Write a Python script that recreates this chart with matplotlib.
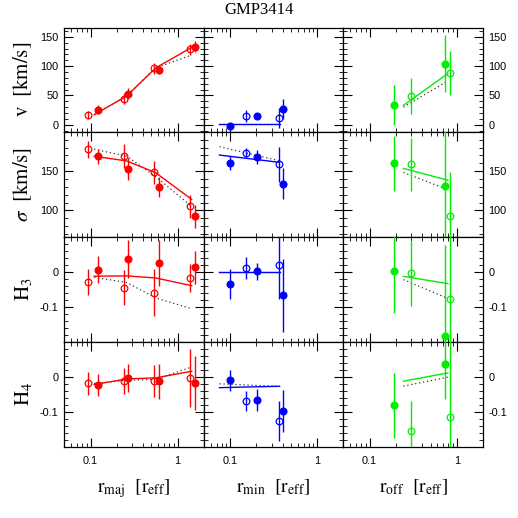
import numpy as np
import matplotlib
matplotlib.use('Agg')
import matplotlib.pyplot as plt
from matplotlib.ticker import LogLocator, MultipleLocator, FixedLocator, FuncFormatter, NullFormatter

# ---------------- data ----------------
# major axis (red)
r_maj_open = [0.094, 0.245, 0.54, 1.38]
r_maj_fill = [0.122, 0.272, 0.615, 1.58]
v_maj_open = [17, 44.5, 96, 129]
v_maj_open_err = [7, 9, 10, 9.5]
v_maj_fill = [25.7, 53, 94, 133]
v_maj_fill_err = [7.7, 9.7, 8, 9.7]
s_maj_open = [177.8, 169.2, 148.3, 105.1]
s_maj_open_err = [10.7, 15, 15, 14.7]
s_maj_fill = [169.2, 152.6, 129.9, 92.3]
s_maj_fill_err = [9.6, 13.9, 12.8, 14.3]
h3_maj_open = [-0.028, -0.045, -0.0595, -0.017]
h3_maj_open_err = [0.037, 0.05, 0.067, 0.039]
h3_maj_fill = [0.0065, 0.037, 0.0255, 0.014]
h3_maj_fill_err = [0.038, 0.054, 0.065, 0.047]
h4_maj_open = [-0.019, -0.0125, -0.013, -0.003]
h4_maj_open_err = [0.032, 0.037, 0.046, 0.083]
h4_maj_fill = [-0.024, -0.003, -0.013, -0.017]
h4_maj_fill_err = [0.032, 0.04, 0.05, 0.078]
r_maj_model = [0.11, 0.26, 0.56, 1.45]
v_maj_solid = [17, 49, 97, 132]
v_maj_dot = [17, 49, 97, 119]
s_maj_solid = [169, 163, 148, 114]
s_maj_dot = [178, 169, 143, 105]
h3_maj_solid = [-0.012, -0.011, -0.017, -0.039]
h3_maj_dot = [-0.015, -0.030, -0.074, -0.105]
h4_maj_solid = [-0.022, -0.006, -0.003, 0.016]
h4_maj_dot = [-0.019, -0.010, -0.007, 0.028]

# minor axis (blue)
r_min_open = [0.154, 0.368]
r_min_fill = [0.100, 0.204, 0.403]
v_min_open = [14.7, 12]
v_min_open_err = [10, 17]
v_min_fill = [-2.4, 14.7, 27.4]
v_min_fill_err = [6, 5.7, 17]
s_min_open = [172.7, 158.6]
s_min_open_err = [6.4, 22]
s_min_fill = [159.9, 168.3, 134.2]
s_min_fill_err = [9, 9, 20.3]
h3_min_open = [0.011, 0.019]
h3_min_open_err = [0.032, 0.096]
h3_min_fill = [-0.034, 0.002, -0.067]
h3_min_fill_err = [0.042, 0.025, 0.105]
h4_min_open = [-0.069, -0.1275]
h4_min_open_err = [0.028, 0.057]
h4_min_fill = [-0.0096, -0.067, -0.097]
h4_min_fill_err = [0.03, 0.032, 0.06]
r_min_model = [0.0755, 0.37]
v_min_solid = [0.5, 0.5]
v_min_dot = [1.0, 1.0]
s_min_solid = [170.5, 161.2]
s_min_dot = [181.2, 163.2]
h3_min_solid = [0.0, 0.0]
h3_min_dot = [0.0, 0.0]
h4_min_solid = [-0.031, -0.027]
h4_min_dot = [-0.020, -0.0275]

# offset axis (green)
r_off_open = [0.301, 0.834]
r_off_fill = [0.19, 0.731]
v_off_open = [49, 88.4]
v_off_open_err = [30.8, 37]
v_off_fill = [34.2, 104.4]
v_off_fill_err = [34, 49]
s_off_open = [158.6, 92.3]
s_off_open_err = [34, 56.8]
s_off_fill = [159.9, 130.8]
s_off_fill_err = [35, 80]
h3_off_open = [-0.003, -0.0785]
h3_off_open_err = [0.093, 0.25]
h3_off_fill = [0.0017, -0.182]
h3_off_fill_err = [0.12, 0.26]
h4_off_open = [-0.156, -0.116]
h4_off_open_err = [0.087, 0.3]
h4_off_fill = [-0.081, 0.037]
h4_off_fill_err = [0.093, 0.1]
r_off_model = [0.244, 0.79]
v_off_solid = [33, 87.3]
v_off_dot = [30.1, 74.7]
s_off_solid = [153.5, 138.5]
s_off_dot = [148.3, 126.5]
h3_off_solid = [-0.0125, -0.033]
h3_off_dot = [-0.0218, -0.0756]
h4_off_solid = [-0.0125, 0.0113]
h4_off_dot = [-0.0266, -0.001]

title = 'GMP3414'
row_labels = [r'$\mathrm{v}\ \ [\mathrm{km/s}]$', r'$\sigma\ \ [\mathrm{km/s}]$',
              r'$\mathrm{H_3}$', r'$\mathrm{H_4}$']
col_labels = [r'$\mathrm{r_{maj}}\ \ \left[\mathrm{r_{eff}}\right]$',
              r'$\mathrm{r_{min}}\ \ \left[\mathrm{r_{eff}}\right]$',
              r'$\mathrm{r_{off}}\ \ \left[\mathrm{r_{eff}}\right]$']
colors = ['#ff0000', '#0000ff', '#00ee00']

# ---------------- assemble ----------------
cols = [
    dict(ro=r_maj_open, rf=r_maj_fill, rm=r_maj_model,
         rows=[(v_maj_open, v_maj_open_err, v_maj_fill, v_maj_fill_err, v_maj_solid, v_maj_dot),
               (s_maj_open, s_maj_open_err, s_maj_fill, s_maj_fill_err, s_maj_solid, s_maj_dot),
               (h3_maj_open, h3_maj_open_err, h3_maj_fill, h3_maj_fill_err, h3_maj_solid, h3_maj_dot),
               (h4_maj_open, h4_maj_open_err, h4_maj_fill, h4_maj_fill_err, h4_maj_solid, h4_maj_dot)]),
    dict(ro=r_min_open, rf=r_min_fill, rm=r_min_model,
         rows=[(v_min_open, v_min_open_err, v_min_fill, v_min_fill_err, v_min_solid, v_min_dot),
               (s_min_open, s_min_open_err, s_min_fill, s_min_fill_err, s_min_solid, s_min_dot),
               (h3_min_open, h3_min_open_err, h3_min_fill, h3_min_fill_err, h3_min_solid, h3_min_dot),
               (h4_min_open, h4_min_open_err, h4_min_fill, h4_min_fill_err, h4_min_solid, h4_min_dot)]),
    dict(ro=r_off_open, rf=r_off_fill, rm=r_off_model,
         rows=[(v_off_open, v_off_open_err, v_off_fill, v_off_fill_err, v_off_solid, v_off_dot),
               (s_off_open, s_off_open_err, s_off_fill, s_off_fill_err, s_off_solid, s_off_dot),
               (h3_off_open, h3_off_open_err, h3_off_fill, h3_off_fill_err, h3_off_solid, h3_off_dot),
               (h4_off_open, h4_off_open_err, h4_off_fill, h4_off_fill_err, h4_off_solid, h4_off_dot)]),
]

ylims = [(-13, 166), (66, 199.5), (-0.2, 0.1), (-0.2, 0.1)]
ymajor = [[0, 50, 100, 150], [100, 150], [-0.1, 0], [-0.1, 0]]
yminor = [10, 10, 0.02, 0.02]

plt.rcParams['mathtext.fontset'] = 'stix'
plt.rcParams['font.family'] = 'Liberation Sans'

fig = plt.figure(figsize=(5.18, 5.18), dpi=100)
L, R, T, B = 64.3 / 518, 483 / 518, 1 - 27.5 / 518, 1 - 446.7 / 518
gs = fig.add_gridspec(4, 3, left=L, right=R, top=T, bottom=B, wspace=0, hspace=0)

fmt = FuncFormatter(lambda v, p: f'{v:g}')

for j, col in enumerate(cols):
    c = colors[j]
    for i, (yo, eo, yf, ef, ys, yd) in enumerate(col['rows']):
        ax = fig.add_subplot(gs[i, j])
        ax.set_xscale('log')
        ax.plot(col['rm'], yd, color='#333333', ls=(0, (1, 2.2)), lw=0.9, zorder=2)
        ax.plot(col['rm'], ys, color=c, ls='-', lw=1.0, zorder=2)
        ax.errorbar(col['ro'], yo, yerr=eo, fmt='o', color=c, mfc='none', mec=c,
                    ms=4.8, mew=0.9, elinewidth=1.0, capsize=0, zorder=3)
        ax.errorbar(col['rf'], yf, yerr=ef, fmt='o', color=c, mfc=c, mec=c,
                    ms=4.8, elinewidth=1.0, capsize=0, zorder=3)
        ax.set_xlim(0.05, 2.0)
        ax.set_ylim(*ylims[i])
        ax.xaxis.set_major_locator(FixedLocator([0.1, 1]))
        ax.xaxis.set_minor_locator(LogLocator(base=10, subs=np.arange(2, 10)))
        ax.xaxis.set_minor_formatter(NullFormatter())
        ax.xaxis.set_major_formatter(fmt)
        ax.yaxis.set_major_locator(FixedLocator(ymajor[i]))
        ax.yaxis.set_minor_locator(MultipleLocator(yminor[i]))
        ax.yaxis.set_major_formatter(fmt)
        ax.tick_params(which='both', direction='in', top=True, right=True,
                       labelsize=7.8, labelleft=(j == 0), labelright=(j == 2),
                       labelbottom=(i == 3), pad=4)
        ax.tick_params(axis='x', which='major', pad=7)
        ax.tick_params(which='major', length=6.5, width=0.8)
        ax.tick_params(which='minor', length=3.2, width=0.6)
        for s in ax.spines.values():
            s.set_linewidth(0.9)
        if j == 0:
            ax.set_ylabel(row_labels[i], fontsize=15)
            ax.yaxis.set_label_coords(-0.215, 0.5)
        if i == 3:
            ax.set_xlabel(col_labels[j], fontsize=14)
            ax.xaxis.set_label_coords(0.5, -0.29)

fig.text(0.5, 1 - 10.5 / 518, title, ha='center', va='center',
         fontsize=12, family='Liberation Serif')

fig.savefig('out.png', dpi=100)
